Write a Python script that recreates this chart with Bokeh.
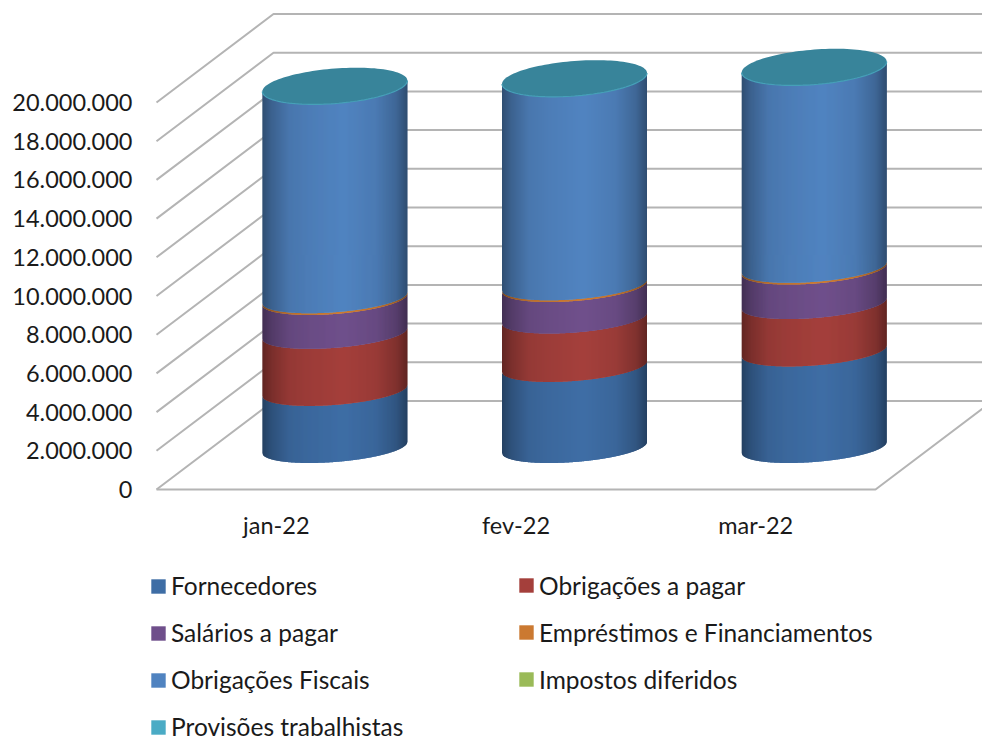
import numpy as np
from bokeh.embed import file_html
from bokeh.models import ColumnDataSource, FixedTicker, Legend, LegendItem, Range1d
from bokeh.plotting import figure
from bokeh.resources import INLINE

# ---- data ----
months = ["jan-22", "fev-22", "mar-22"]
fornecedores = [2950000, 4190000, 4990000]
obrigacoes_pagar = [2950000, 2500000, 2450000]
salarios = [1750000, 1630000, 1780000]
emprestimos = [90000, 90000, 90000]
obrigacoes_fiscais = [10910000, 10640000, 10320000]
impostos = [0, 0, 0]
provisoes = [30000, 20000, 30000]
tick_values = [0, 2000000, 4000000, 6000000, 8000000, 10000000, 12000000, 14000000, 16000000, 18000000, 20000000]
tick_labels = ["0", "2.000.000", "4.000.000", "6.000.000", "8.000.000", "10.000.000", "12.000.000",
               "14.000.000", "16.000.000", "18.000.000", "20.000.000"]
series_names = ["Fornecedores", "Obrigações a pagar", "Salários a pagar", "Empréstimos e Financiamentos",
                "Obrigações Fiscais", "Impostos diferidos", "Provisões trabalhistas"]
series_values = [fornecedores, obrigacoes_pagar, salarios, emprestimos, obrigacoes_fiscais, impostos, provisoes]
series_colors = ["#3f6ea6", "#a5403c", "#70508c", "#cc7a32", "#5184c1", "#9bbb59", "#4bacc6"]
legend_columns = [[0, 2, 4, 6], [1, 3, 5]]

# ---- layout, in pixels of the picture ----
FONT = "Lato"
FONT_SIZE = "23.5px"
LEGEND_FONT_SIZE = "24.5px"
W, H = 982, 741
FRAME_L = 145
FLOOR_Y, FRONT_X, FRONT_W = 489, 156, 719
PX_PER_X = FRONT_W / 3
PX_PER_Y = 19.35 / 1e6
DEPTH_X = 117 / PX_PER_X
DEPTH_Y = 88.5 / PX_PER_Y
CYL_A = 72.5 / PX_PER_X
CYL_DX = 58.5 / PX_PER_X
CYL_DY = 42 / PX_PER_Y
CYL_B = 14.5 / PX_PER_Y
CAP_B = 17.5 / PX_PER_Y
CYL_SHEAR = 5.5 / PX_PER_Y
N_STRIPS = 145

x_start = (FRAME_L - FRONT_X) / PX_PER_X
x_end = (W - FRONT_X) / PX_PER_X
y_start = (FLOOR_Y - H) / PX_PER_Y
y_end = FLOOR_Y / PX_PER_Y

p = figure(width=W, height=H, output_backend="svg", toolbar_location=None,
           x_range=Range1d(x_start, x_end), y_range=Range1d(y_start, y_end),
           min_border_left=FRAME_L, min_border_right=0, min_border_top=0, min_border_bottom=0)
p.outline_line_color = None
p.grid.visible = False
p.background_fill_color = "white"

# axes
for ax in (p.xaxis[0], p.yaxis[0]):
    ax.axis_line_color = None
    ax.major_tick_line_color = None
    ax.minor_tick_line_color = None
    ax.major_label_text_font = FONT
    ax.major_label_text_font_size = FONT_SIZE
    ax.major_label_text_color = "#1a1a1a"
p.yaxis[0].ticker = FixedTicker(ticks=tick_values)
p.yaxis[0].major_label_overrides = dict(zip(tick_values, tick_labels))
p.yaxis[0].major_label_standoff = 7
x_ticks = [i + 0.5 for i in range(len(months))]
p.xaxis[0].ticker = FixedTicker(ticks=x_ticks)
p.xaxis[0].major_label_overrides = dict(zip(x_ticks, months))
p.xaxis[0].major_label_standoff = 15
p.xaxis[0].fixed_location = 0

# walls and floor
wall_x, wall_y = [], []
for t in tick_values:
    wall_x.append([0, DEPTH_X, x_end + 1])
    wall_y.append([t, t + DEPTH_Y, t + DEPTH_Y])
wall_x.append([0, 3, 3 + DEPTH_X])
wall_y.append([0, 0, DEPTH_Y])
p.multi_line(wall_x, wall_y, line_color="#b4b4b4", line_width=2)


def shade(u):
    return np.interp(u, [0, 0.06, 0.18, 0.32, 0.56, 0.78, 0.92, 1.0],
                     [0.60, 0.74, 0.90, 0.95, 1.0, 0.93, 0.78, 0.58])


def darker(color, f):
    r, g, b = (int(color[i:i + 2], 16) for i in (1, 3, 5))
    return "#%02x%02x%02x" % (int(r * f), int(g * f), int(b * f))


edges = np.linspace(-1, 1, N_STRIPS + 1)
overlap = 1.0 / PX_PER_X / CYL_A
renderers = []
for s, (vals, col) in enumerate(zip(series_values, series_colors)):
    xs, ys, cs = [], [], []
    for i in range(len(months)):
        xc = i + 0.5 + CYL_DX
        base = CYL_DY + sum(series_values[k][i] for k in range(s))
        top = base + vals[i]
        for j in range(N_STRIPS):
            u = np.linspace(edges[j], min(edges[j + 1] + overlap, 1), 4)
            curve = CYL_SHEAR * u - CYL_B * np.sqrt(np.clip(1 - u * u, 0, 1))
            xs.append(list(xc + CYL_A * np.r_[u, u[::-1]]))
            ys.append(list(np.r_[base + curve, (top + curve)[::-1]]))
            cs.append(darker(col, float(shade((edges[j] + 1) / 2))))
    src = ColumnDataSource(dict(xs=xs, ys=ys, c=cs))
    renderers.append(p.patches("xs", "ys", source=src, fill_color="c", line_color=None))

# top caps, with the lighter rim along their front edge
cap_x, cap_y, rim_x, rim_y = [], [], [], []
theta = np.linspace(0, 2 * np.pi, 121)
for i in range(len(months)):
    xc = i + 0.5 + CYL_DX
    top = CYL_DY + sum(v[i] for v in series_values)
    u = np.cos(theta)
    ex = xc + CYL_A * u
    ey = top + CYL_SHEAR * u + CAP_B * np.sin(theta)
    cap_x.append(list(ex))
    cap_y.append(list(ey))
    rim_x.append(list(ex[60:]))
    rim_y.append(list(ey[60:]))
p.patches(cap_x, cap_y, fill_color="#38849a", line_color=None)
p.multi_line(rim_x, rim_y, line_color="#46a0b8", line_width=1.2)

# legend, two columns; the swatch colour is taken from the brightest strip
swatch_index = int(N_STRIPS * 0.56)
ROW_PITCH = 47.4
LAST_ROW_BOTTOM = 741
for members, lx in zip(legend_columns, (149, 517)):
    items = [LegendItem(label=series_names[m], renderers=[renderers[m]], index=swatch_index) for m in members]
    bottom = LAST_ROW_BOTTOM - ROW_PITCH * (len(legend_columns[0]) - len(members))
    leg = Legend(items=items, location=(lx - FRAME_L, H - bottom), orientation="vertical",
                 background_fill_alpha=0, border_line_color=None, padding=0, margin=0,
                 spacing=18, label_height=24, glyph_height=18, glyph_width=18, label_standoff=4,
                 label_text_font=FONT, label_text_font_size=LEGEND_FONT_SIZE, label_text_color="#1a1a1a",
                 label_text_line_height=1.0)
    p.add_layout(leg, "center")

open("out.html", "w").write(file_html(p, INLINE))
